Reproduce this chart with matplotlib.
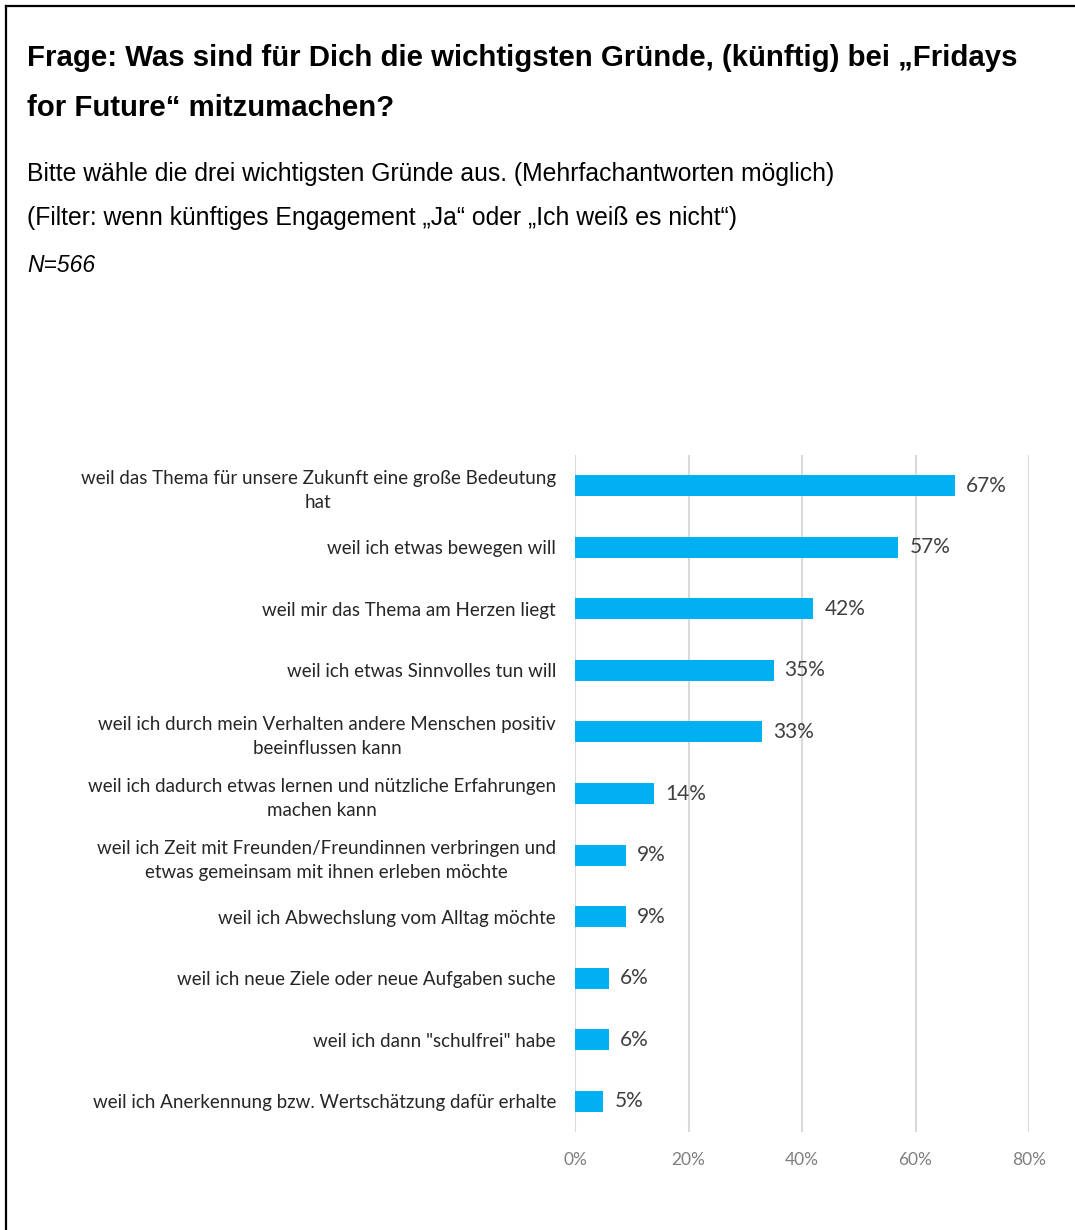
import matplotlib
matplotlib.use("Agg")
import matplotlib.pyplot as plt
from matplotlib.lines import Line2D
from matplotlib.ticker import FuncFormatter

# Daten (von oben nach unten)
gruende = [
    "weil das Thema für unsere Zukunft eine große Bedeutung\nhat",
    "weil ich etwas bewegen will",
    "weil mir das Thema am Herzen liegt",
    "weil ich etwas Sinnvolles tun will",
    "weil ich durch mein Verhalten andere Menschen positiv\nbeeinflussen kann",
    "weil ich dadurch etwas lernen und nützliche Erfahrungen\nmachen kann",
    "weil ich Zeit mit Freunden/Freundinnen verbringen und\netwas gemeinsam mit ihnen erleben möchte",
    "weil ich Abwechslung vom Alltag möchte",
    "weil ich neue Ziele oder neue Aufgaben suche",
    "weil ich dann \"schulfrei\" habe",
    "weil ich Anerkennung bzw. Wertschätzung dafür erhalte",
]
anteile = [0.67, 0.57, 0.42, 0.35, 0.33, 0.14, 0.09, 0.09, 0.06, 0.06, 0.05]
x_ticks = [0.0, 0.2, 0.4, 0.6, 0.8]

titel1 = "Frage: Was sind für Dich die wichtigsten Gründe, (künftig) bei „Fridays"
titel2 = "for Future“ mitzumachen?"
zeile1 = "Bitte wähle die drei wichtigsten Gründe aus. (Mehrfachantworten möglich)"
zeile2 = "(Filter: wenn künftiges Engagement „Ja“ oder „Ich weiß es nicht“)"
n_text = "N=566"

W, H = 1075, 1230
fig = plt.figure(figsize=(W / 100, H / 100), dpi=100)
fig.patch.set_facecolor("white")

# Rahmen oben und links
fig.add_artist(Line2D([6 / W, 1], [1 - 6 / H, 1 - 6 / H], color="black", lw=1.6))
fig.add_artist(Line2D([6 / W, 6 / W], [0, 1 - 6 / H], color="black", lw=1.6))

# Überschriften
fig.text(27 / W, 1 - 58 / H, titel1, family="Liberation Sans", weight="bold",
         fontsize=21.2, va="center", ha="left")
fig.text(27 / W, 1 - 108 / H, titel2, family="Liberation Sans", weight="bold",
         fontsize=21.2, va="center", ha="left")
fig.text(27 / W, 1 - 174 / H, zeile1, family="Liberation Sans", fontsize=17.8, va="center")
fig.text(27 / W, 1 - 218 / H, zeile2, family="Liberation Sans", fontsize=17.8, va="center")
fig.text(27 / W, 1 - 265 / H, n_text, family="Liberation Sans", style="italic",
         fontsize=16.5, va="center")

# Diagramm
ax = fig.add_axes([575 / W, 1 - 1132 / H, 454 / W, 677 / H])
pos = list(range(len(gruende)))
ax.barh(pos, anteile, height=0.34, color="#00B0F0", zorder=3)
ax.set_ylim(len(gruende) - 0.5, -0.5)
ax.set_xlim(0, 0.8)
ax.set_xticks(x_ticks)
ax.xaxis.set_major_formatter(FuncFormatter(lambda v, p: f"{v:.0%}"))
ax.set_yticks(pos)
ax.set_yticklabels(gruende, family="Lato", fontsize=13.5, color="#262626",
                   multialignment="center", linespacing=1.5)
ax.tick_params(axis="y", length=0, pad=13.7)
ax.tick_params(axis="x", length=0, pad=14.5, labelsize=12.5, labelcolor="#7f7f7f")
for lab in ax.get_xticklabels():
    lab.set_family("Lato")
ax.grid(axis="x", color="#d9d9d9", lw=1.5, zorder=0)
for s in ax.spines.values():
    s.set_visible(False)

for p, v in zip(pos, anteile):
    ax.annotate(f"{v:.0%}", (v, p), xytext=(11, 0), textcoords="offset pixels",
                va="center", ha="left", family="Lato", fontsize=15, color="#404040")

fig.savefig("out.png", dpi=100)
